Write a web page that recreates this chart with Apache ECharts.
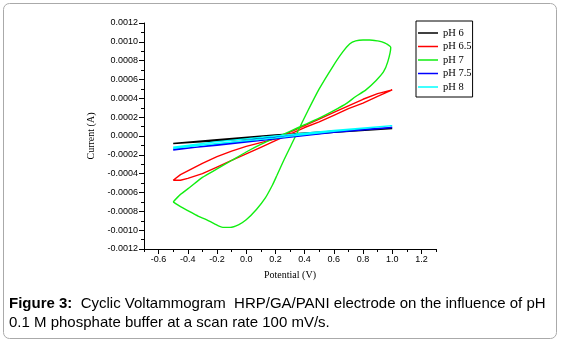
<!DOCTYPE html>
<html>
<head>
<meta charset="UTF-8">
<title>Cyclic Voltammogram</title>
<script src="https://cdn.jsdelivr.net/npm/echarts@6/dist/echarts.min.js"></script>
<style>
html,body{margin:0;padding:0;background:#fff;}
#charts{width:561px;height:343px;}
</style>
</head>
<body>
<div id="charts"></div>
<script type="text/javascript">
// potential (V), current (A) pairs, in scan order
var ph6 = [[-0.5,-0.00008],[-0.2,-0.00004],[0.2,0.00001],[0.6,0.00005],[1.0,0.00008],
	[0.6,0.00004],[0.2,-0.00001],[-0.2,-0.00005],[-0.5,-0.00008]];
var ph65 = [[-0.5,-0.00047],[-0.45,-0.00047],[-0.4,-0.00045],[-0.3,-0.00040],[-0.2,-0.00033],
	[-0.1,-0.00026],[0.0,-0.00019],[0.1,-0.00012],[0.2,-0.00005],[0.3,0.00002],[0.4,0.00009],
	[0.5,0.00015],[0.6,0.00022],[0.7,0.00029],[0.8,0.00035],[0.9,0.00042],[1.0,0.00049],
	[0.9,0.00045],[0.8,0.00039],[0.7,0.00032],[0.6,0.00025],[0.5,0.00018],[0.4,0.00011],
	[0.3,0.00004],[0.2,-0.00003],[0.1,-0.00007],[0.0,-0.00011],[-0.1,-0.00016],[-0.2,-0.00022],
	[-0.3,-0.00029],[-0.4,-0.00037],[-0.45,-0.00041],[-0.5,-0.00047]];
var ph7 = [[-0.5,-0.00070],[-0.45,-0.00075],[-0.39,-0.00080],[-0.33,-0.00085],[-0.27,-0.00089],
	[-0.22,-0.00093],[-0.16,-0.00097],[-0.11,-0.00097],[-0.05,-0.00094],[0.0,-0.00089],
	[0.07,-0.00078],[0.13,-0.00066],[0.18,-0.00052],[0.21,-0.00042],[0.26,-0.00025],
	[0.31,-0.00009],[0.36,0.00007],[0.42,0.00026],[0.5,0.00050],[0.59,0.00073],[0.66,0.00089],
	[0.71,0.00098],[0.75,0.00101],[0.8,0.00102],[0.845,0.00102],[0.9,0.00101],[0.93,0.00100],
	[0.96,0.00098],[0.99,0.00094],[0.97,0.00079],[0.94,0.00068],[0.89,0.00059],[0.82,0.00049],
	[0.75,0.00042],[0.69,0.00035],[0.6,0.00027],[0.5,0.00019],[0.4,0.00012],[0.3,0.00005],
	[0.2,-0.00002],[0.1,-0.00009],[0.0,-0.00017],[-0.1,-0.00026],[-0.2,-0.00035],
	[-0.3,-0.00044],[-0.39,-0.00055],[-0.45,-0.00062],[-0.5,-0.00070]];
var ph75 = [[-0.5,-0.00015],[-0.2,-0.00009],[0.2,-0.00001],[0.6,0.00005],[1.0,0.00009],
	[0.6,0.00004],[0.2,-0.00003],[-0.2,-0.00010],[-0.5,-0.00014]];
var ph8 = [[-0.5,-0.00013],[-0.2,-0.00008],[0.2,-0.00002],[0.6,0.00005],[1.0,0.00011],
	[0.6,0.00006],[0.2,0.00000],[-0.2,-0.00006],[-0.5,-0.00012]];

var names = ['pH 6','pH 6.5','pH 7','pH 7.5','pH 8'];
var colors = ['#000000','#ff0000','#11ee11','#0000ff','#00ffff'];
var xMajor = [-0.6,-0.4,-0.2,0.0,0.2,0.4,0.6,0.8,1.0,1.2];
var xMinor = [-0.7,-0.5,-0.3,-0.1,0.1,0.3,0.5,0.7,0.9,1.1,1.3];

var mychart = echarts.init(document.getElementById('charts'));
var allData = [ph6,ph65,ph7,ph75,ph8];
var series = [];
for (var i = 0; i < allData.length; i++) {
	series.push({
		name: names[i],
		type: 'line',
		data: allData[i],
		symbol: 'none',
		smooth: i == 2 ? 0.25 : false,
		lineStyle: {color: colors[i], width: 1.4},
		itemStyle: {color: colors[i]}
	});
}

var axisFont = {fontFamily: 'Liberation Sans', fontSize: 9, color: '#000'};
var option = {
	animation: false,
	grid: {left: 144, right: 125, top: 23, bottom: 94},
	legend: {
		orient: 'vertical',
		left: 416, top: 21,
		data: names,
		icon: 'rect',
		itemWidth: 20, itemHeight: 1.5,
		itemGap: 0.5,
		padding: [5.5, 1, 3.5, 2],
		borderColor: '#000', borderWidth: 1,
		textStyle: {fontFamily: 'Liberation Serif', fontSize: 10.5, lineHeight: 13, color: '#000'}
	},
	xAxis: [{
		type: 'value', min: -0.7, max: 1.3,
		name: 'Potential (V)', nameLocation: 'middle', nameGap: 21,
		nameTextStyle: {fontFamily: 'Liberation Serif', fontSize: 10, color: '#000'},
		axisLine: {show: true, onZero: false, lineStyle: {color: '#000', width: 1}},
		axisTick: {show: true, customValues: xMajor, length: 5, lineStyle: {color: '#000'}},
		axisLabel: Object.assign({customValues: xMajor, margin: 6,
			formatter: function (v) { return v.toFixed(1); }}, axisFont),
		splitLine: {show: false}
	}, {
		type: 'value', min: -0.7, max: 1.3, position: 'bottom',
		axisLine: {show: false, onZero: false},
		axisTick: {show: true, customValues: xMinor, length: 3, lineStyle: {color: '#000'}},
		axisLabel: {show: false},
		splitLine: {show: false}
	}],
	yAxis: {
		type: 'value', min: -0.0012, max: 0.0012, interval: 0.0002,
		name: 'Current (A)', nameLocation: 'middle', nameGap: 47,
		nameTextStyle: {fontFamily: 'Liberation Serif', fontSize: 10, color: '#000'},
		axisLine: {show: true, onZero: false, lineStyle: {color: '#000', width: 1}},
		axisTick: {show: true, length: 5, lineStyle: {color: '#000'}},
		minorTick: {show: true, splitNumber: 2, length: 3, lineStyle: {color: '#000'}},
		axisLabel: Object.assign({margin: 6,
			formatter: function (v) { return v.toFixed(4); }}, axisFont),
		splitLine: {show: false}
	},
	graphic: [{
		type: 'rect',
		shape: {x: 3.5, y: 3.5, width: 553, height: 335, r: 6},
		style: {fill: 'none', stroke: '#aaaaaa', lineWidth: 1},
		silent: true
	}, {
		type: 'text',
		left: 9, top: 294,
		style: {
			text: '{b|Figure 3:}  Cyclic Voltammogram  HRP/GA/PANI electrode on the influence of pH\n0.1 M phosphate buffer at a scan rate 100 mV/s.',
			fontFamily: 'Liberation Sans', fontSize: 15, lineHeight: 19, fill: '#000',
			rich: {b: {fontFamily: 'Liberation Sans', fontSize: 15, fontWeight: 'bold', lineHeight: 19, fill: '#000'}}
		}
	}],
	series: series
};
mychart.setOption(option);
</script>
</body>
</html>
